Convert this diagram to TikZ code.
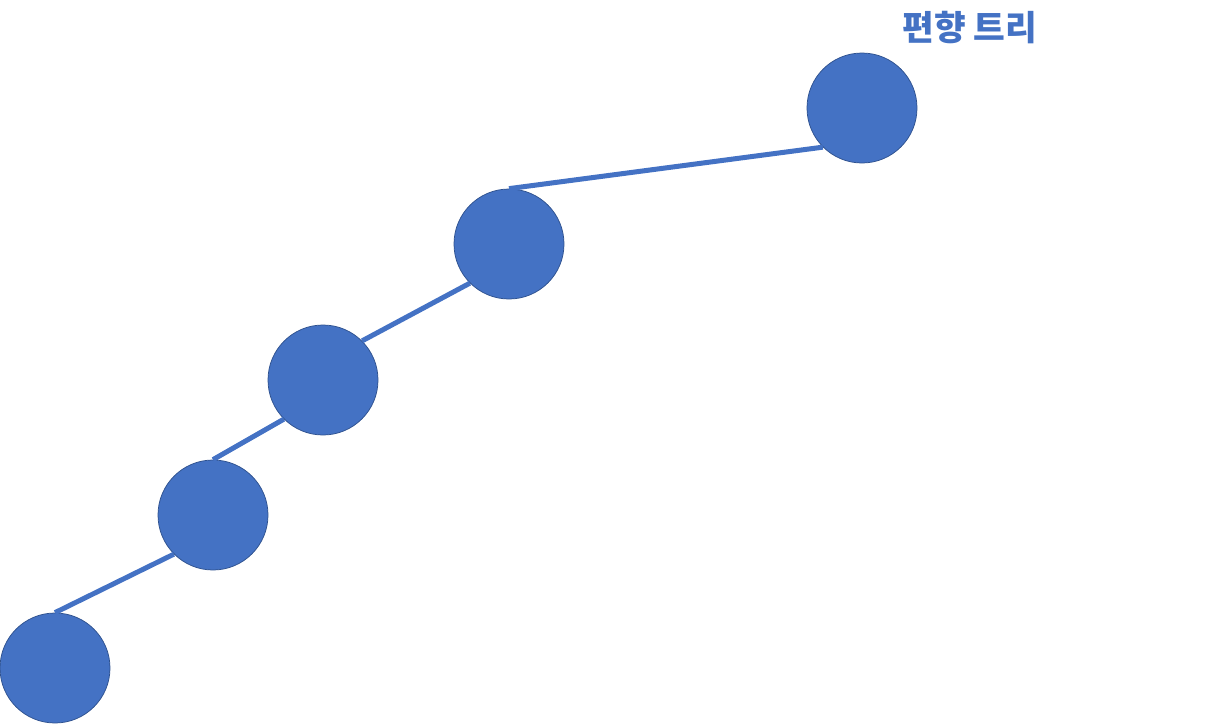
\documentclass[tikz,border=0pt]{standalone}
\usepackage{fontspec}
\newfontfamily\kofont{Noto Sans CJK KR}
\definecolor{nodeblue}{HTML}{4472C4}
\definecolor{nodeedge}{HTML}{2F528F}
\tikzset{
  treenode/.style={circle,fill=nodeblue,draw=nodeedge,line width=.75pt,minimum size=110pt,inner sep=0pt},
  treeline/.style={draw=nodeblue,line width=5pt}
}
\begin{document}
\begin{tikzpicture}[x=1pt,y=-1pt]
\path[use as bounding box] (0,0) rectangle (1216,724);
\node[anchor=center,inner sep=0pt,text=nodeblue,font=\kofont\bfseries\fontsize{34.5}{37}\selectfont] (title) at (970,28) {편향 트리};
\node[treenode] (root) at (862,108) {};
\node[treenode] (left1) at (509,244) {};
\node[treenode] (left2) at (323,380) {};
\node[treenode] (left3) at (213,515) {};
\node[treenode] (left4) at (55,668) {};
\draw[treeline] (root.225) -- (left1.north);
\draw[treeline] (left1.225) -- (left2.45);
\draw[treeline] (left2.225) -- (left3.north);
\draw[treeline] (left3.225) -- (left4.north);
\end{tikzpicture}
\end{document}
